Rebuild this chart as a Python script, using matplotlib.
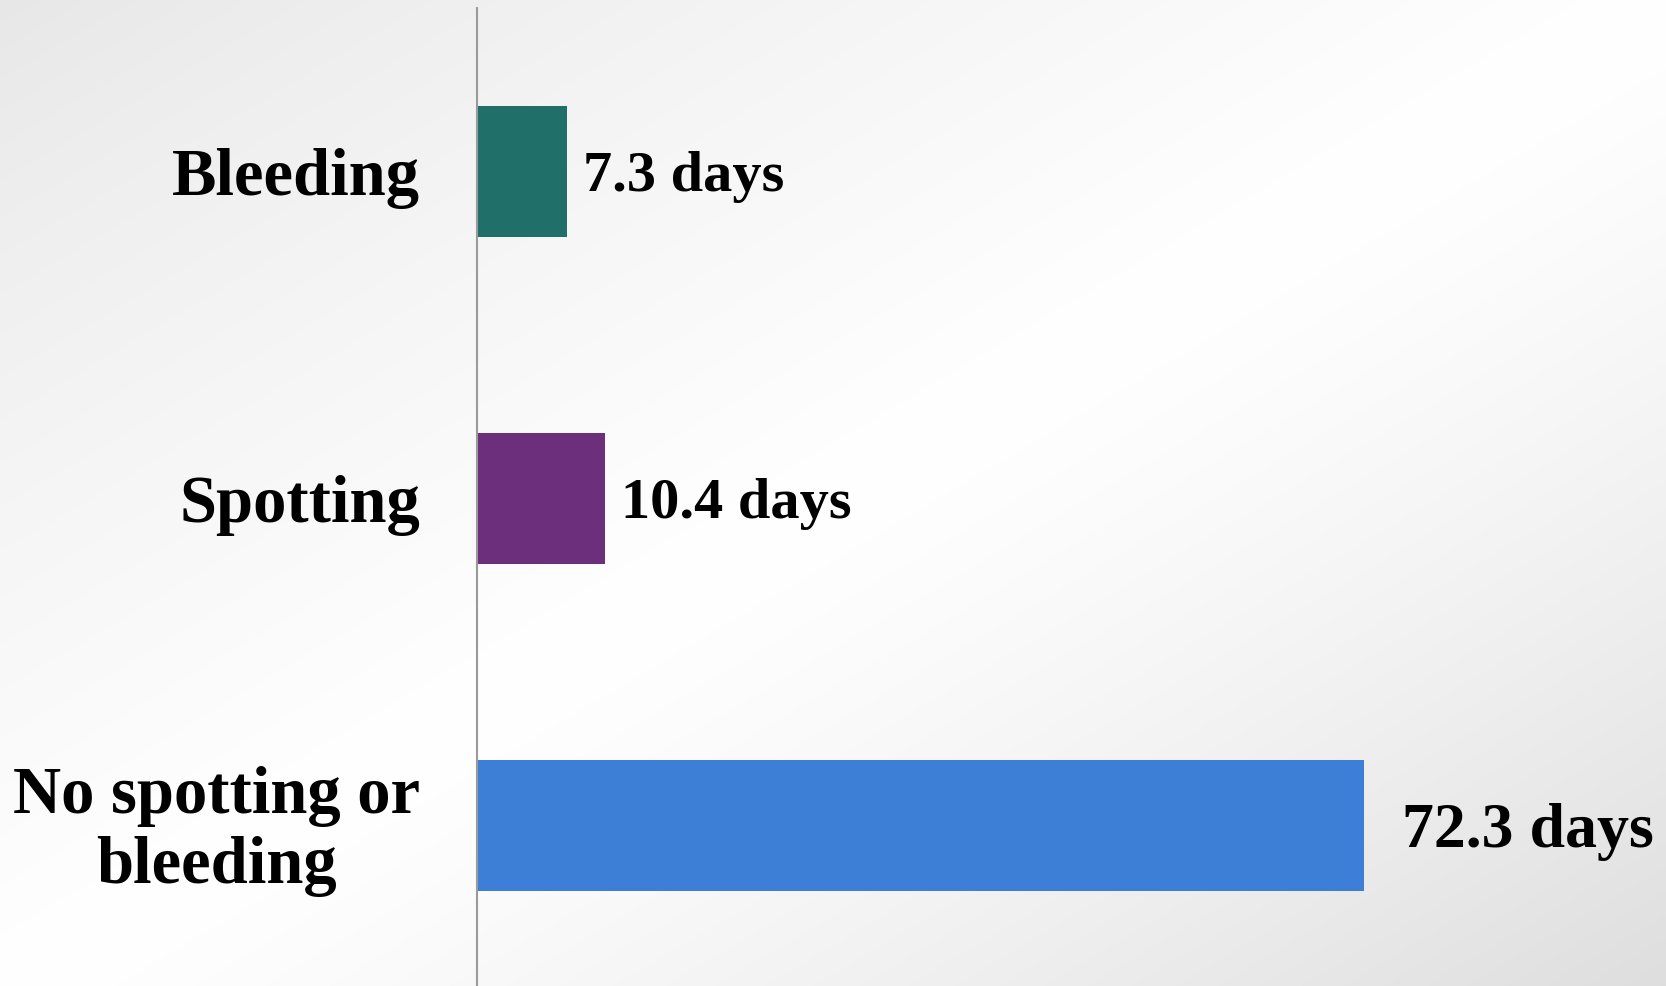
import numpy as np
import matplotlib
matplotlib.use("Agg")
import matplotlib.pyplot as plt
from matplotlib.transforms import ScaledTranslation

# Days by bleeding category
categories = ["No spotting or\nbleeding", "Spotting", "Bleeding"]
days = [72.3, 10.4, 7.3]
labels = ["72.3 days", "10.4 days", "7.3 days"]
colors = ["#3d7fd6", "#6b2f7b", "#216f69"]
label_pads = [38, 16, 16]  # pixels between bar end and label
label_sizes = [46, 42, 42]

W, H = 1666, 986
fig = plt.figure(figsize=(W / 100, H / 100), dpi=100)

# Diagonal grey-white-grey background
bg = fig.add_axes([0, 0, 1, 1], zorder=-10)
yy, xx = np.mgrid[0:H, 0:W]
t = (xx / W + yy / H) / 2
shade = np.where(t < 0.5, 0.905 + (1 - 0.905) * (t / 0.5) ** 0.8,
                 1 - (1 - 0.87) * ((t - 0.5) / 0.5) ** 1.3)
bg.imshow(np.dstack([shade] * 3), aspect="auto", extent=[0, 1, 0, 1], origin="upper")
bg.axis("off")

ax = fig.add_axes([477 / W, 0, 1 - 477 / W, (H - 8) / H])
ax.set_facecolor("none")
ypos = np.arange(len(categories))
ax.barh(ypos, days, height=0.4, color=colors)
ax.set_xlim(0, (W - 477) / 12.27)
ax.set_ylim(-0.49, 2.5)

font = dict(family="Liberation Serif", weight="bold", size=48)
ax.set_yticks(ypos)
ax.set_yticklabels(categories, fontdict=font, multialignment="center", linespacing=1.2)
ax.tick_params(axis="y", length=0, pad=41)
ax.tick_params(axis="x", bottom=False, labelbottom=False)

# nudge the two-line label up a little
tl = ax.get_yticklabels()[0]
tl.set_transform(tl.get_transform() + ScaledTranslation(0, 0.06, fig.dpi_scale_trans))

for y, v, lab, pad, sz in zip(ypos, days, labels, label_pads, label_sizes):
    ax.annotate(lab, (v, y), xytext=(pad * 0.72, -sz * 0.33), textcoords="offset points",
                va="baseline", ha="left", family="Liberation Serif", weight="bold", size=sz)

for s in ["top", "right", "bottom"]:
    ax.spines[s].set_visible(False)
ax.spines["left"].set_color("#9a9a9a")
ax.spines["left"].set_linewidth(1.5)

fig.savefig("out.png", dpi=100)
